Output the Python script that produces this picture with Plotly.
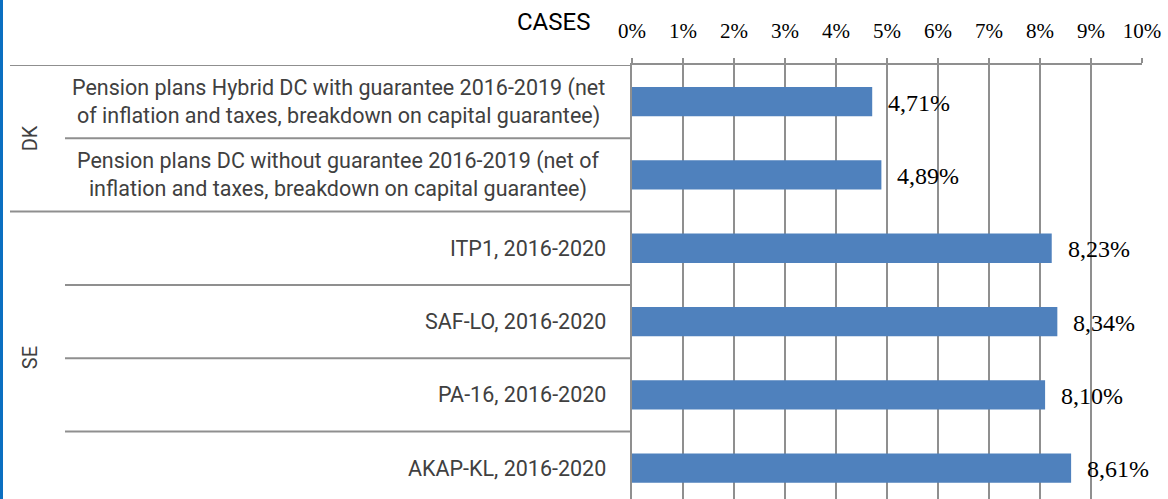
import plotly.graph_objects as go

# ---- data ----
groups = ["DK", "SE"]
group_sizes = [2, 4]
categories = [
    "Pension plans Hybrid DC with guarantee 2016-2019 (net<br>of inflation and taxes, breakdown on capital guarantee)",
    "Pension plans DC without guarantee 2016-2019 (net of<br>inflation and taxes, breakdown on capital guarantee)",
    "ITP1, 2016-2020",
    "SAF-LO, 2016-2020",
    "PA-16, 2016-2020",
    "AKAP-KL, 2016-2020",
]
values = [4.71, 4.89, 8.23, 8.34, 8.10, 8.61]
x_ticks = [0, 1, 2, 3, 4, 5, 6, 7, 8, 9, 10]
axis_title = "CASES"

# ---- geometry helpers (pixels -> paper) ----
W, H = 1168, 499
L, R, T, B = 632, 26, 65, 0
PW = W - L - R
PH = H - T - B
def px_x(px):
    return (px - L) / PW
def px_y(py):
    return 1 - (py - T) / PH

band = 73.3
ymax = -0.5 + PH / band

grid_col = "#8f8f8f"
bar_col = "#4F81BD"
lab_col = "#404040"
sans = "Roboto, Open Sans, sans-serif"
serif = "Liberation Serif, DejaVu Serif, serif"

idx = list(range(len(categories)))

fig = go.Figure()
fig.add_trace(go.Bar(
    y=idx, x=values, orientation="h", width=0.4,
    marker=dict(color=bar_col, line=dict(width=0)),
    hoverinfo="skip", showlegend=False,
))

annotations = []
# value labels
for i, v in zip(idx, values):
    annotations.append(dict(
        x=v, y=i, xref="x", yref="y", xanchor="left", yanchor="middle",
        xshift=14, yshift=-1, showarrow=False,
        text=f"{v:.2f}".replace(".", ",") + "%",
        font=dict(family=serif, size=24, color="black"),
    ))
# category labels
for i, c in zip(idx, categories):
    if "<br>" in c:
        annotations.append(dict(
            x=px_x(338), y=i, xref="paper", yref="y", xanchor="center",
            yanchor="middle", align="center", showarrow=False, text=c,
            font=dict(family=sans, size=21.5, color=lab_col),
        ))
    else:
        annotations.append(dict(
            x=px_x(608), y=i, xref="paper", yref="y", xanchor="right",
            yanchor="middle", showarrow=False, text=c,
            font=dict(family=sans, size=21.5, color=lab_col),
        ))
# group labels
start = 0
for g, n in zip(groups, group_sizes):
    centre = start + (n - 1) / 2
    annotations.append(dict(
        x=px_x(30), y=centre, xref="paper", yref="y", xanchor="center",
        yanchor="middle", showarrow=False, text=g, textangle=-90,
        font=dict(family=sans, size=20, color=lab_col),
    ))
    start += n
# axis title
annotations.append(dict(
    x=px_x(592), y=px_y(22), xref="paper", yref="paper", xanchor="right",
    yanchor="middle", showarrow=False, text=axis_title,
    font=dict(family=sans, size=24, color="black"),
))

shapes = []
# separators
start = 0
for n in group_sizes:
    shapes.append(dict(type="line", xref="paper", yref="y",
                       x0=px_x(10), x1=0, y0=start - 0.5, y1=start - 0.5,
                       line=dict(color=grid_col, width=2)))
    for k in range(1, n):
        yy = start + k - 0.5
        shapes.append(dict(type="line", xref="paper", yref="y",
                           x0=px_x(65), x1=0, y0=yy, y1=yy,
                           line=dict(color=grid_col, width=2)))
    start += n
# left blue border
shapes.append(dict(type="rect", xref="paper", yref="paper",
                   x0=px_x(0), x1=px_x(3), y0=-0.1, y1=1.3,
                   fillcolor="#0B6FC1", line=dict(width=0), layer="above"))

fig.update_layout(
    width=W, height=H,
    margin=dict(l=L, r=R, t=T, b=B, pad=0, autoexpand=False),
    paper_bgcolor="white", plot_bgcolor="white",
    annotations=annotations, shapes=shapes,
    xaxis=dict(range=[0, 10], side="top", tickvals=x_ticks,
               ticktext=[f"{t}%" for t in x_ticks],
               showgrid=True, gridcolor=grid_col, gridwidth=2,
               ticks="outside", ticklen=5, tickcolor=grid_col, tickwidth=2,
               showline=True, linecolor=grid_col, linewidth=2,
               zeroline=False, ticklabelstandoff=12, automargin=False,
               tickfont=dict(family=serif, size=21, color="black"),
               fixedrange=True),
    yaxis=dict(range=[ymax, -0.5], showticklabels=False, showgrid=False,
               zeroline=False, showline=True, linecolor=grid_col, linewidth=2,
               ticks="", fixedrange=True, automargin=False),
)

fig.write_html(
    "out.html",
    config={"displayModeBar": False, "staticPlot": True},
    post_script="document.body.style.margin='0';document.body.style.overflow='hidden';",
)
